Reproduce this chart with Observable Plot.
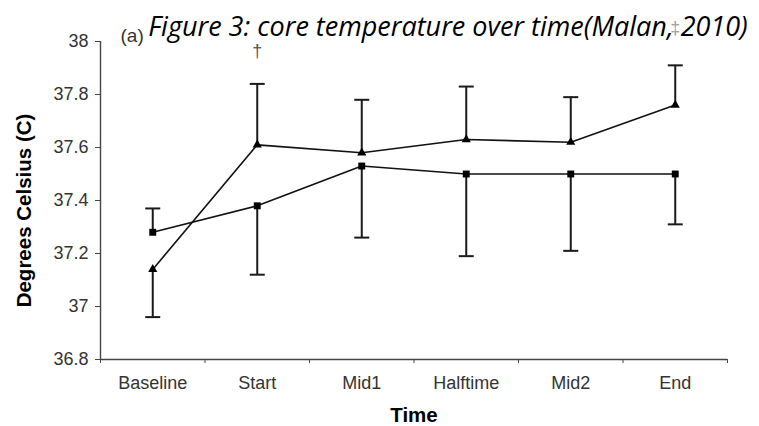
<!DOCTYPE html>
<html>
<head>
<meta charset="utf-8">
<script src="https://cdn.jsdelivr.net/npm/d3@7"></script>
<script src="https://cdn.jsdelivr.net/npm/@observablehq/plot@0.6"></script>
<style>
  body { margin: 0; background: #fff; }
  svg { overflow: visible; }
</style>
</head>
<body>
<div id="chart"></div>
<script>
// Core temperature (°C) at each time point, two conditions
const times = ["Baseline", "Start", "Mid1", "Halftime", "Mid2", "End"];

// triangle series: means and the far end of each one-sided error bar
const triMean = [37.14, 37.61, 37.58, 37.63, 37.62, 37.76];
const triBar  = [36.96, 37.84, 37.78, 37.83, 37.79, 37.91];

// square series: means and the far end of each one-sided error bar
const sqMean = [37.28, 37.38, 37.53, 37.50, 37.50, 37.50];
const sqBar  = [37.37, 37.12, 37.26, 37.19, 37.21, 37.31];

const yTicks = [36.8, 37, 37.2, 37.4, 37.6, 37.8, 38];
const yTickLabels = ["36.8", "37", "37.2", "37.4", "37.6", "37.8", "38"];

// significance markers
const marks = [
  {time: "Start", y: 37.965, label: "\u2020", color: "#555"},
  {time: "End", y: 38.05, label: "\u2021", color: "#a0a0a0"}
];

// each category sits in the middle of a unit-wide slot on a linear x scale
const slot = t => times.indexOf(t) + 0.5;
const tri = times.map((t, i) => ({x: slot(t), mean: triMean[i], bar: triBar[i]}));
const sq = times.map((t, i) => ({x: slot(t), mean: sqMean[i], bar: sqBar[i]}));

// horizontal cap drawn as a dot symbol
const capSymbol = {
  draw(context, size) {
    const w = Math.sqrt(size / Math.PI);
    context.moveTo(-w, 0);
    context.lineTo(w, 0);
  }
};

const xDomain = [0, times.length];
const yDomain = [yTicks[0], yTicks[yTicks.length - 1]];

const series = (data, symbol, r) => [
  Plot.ruleX(data, {x: "x", y1: "mean", y2: "bar", stroke: "#1a1a1a", strokeWidth: 2}),
  Plot.dot(data, {x: "x", y: "bar", symbol: capSymbol, r: 7.5, stroke: "#1a1a1a", strokeWidth: 2}),
  Plot.line(data, {x: "x", y: "mean", stroke: "#111", strokeWidth: 1.6}),
  Plot.dot(data, {x: "x", y: "mean", symbol, r, fill: "#000", stroke: "none"})
];

const chart = Plot.plot({
  width: 759,
  height: 426,
  marginLeft: 100,
  marginRight: 32,
  marginTop: 41,
  marginBottom: 67,
  style: {fontFamily: "'Liberation Sans', Arial, sans-serif", fontSize: "18px", color: "#333", background: "#fff"},
  x: {type: "linear", domain: xDomain},
  y: {domain: yDomain},
  marks: [
    // axis lines
    Plot.ruleX([xDomain[0]], {y1: yDomain[0], y2: yDomain[1], stroke: "#444", strokeWidth: 1.4}),
    Plot.ruleY([yDomain[0]], {stroke: "#444", strokeWidth: 1.4}),
    Plot.axisY({ticks: yTicks, tickFormat: (d, i) => yTickLabels[i], tickSize: 5, tickPadding: 7, fontSize: 18, label: null, stroke: "#444"}),
    // slot boundary ticks on x
    Plot.axisX({ticks: d3.range(times.length + 1), tickFormat: () => "", tickSize: 4, label: null, stroke: "#444"}),
    // category labels in the middle of each slot
    Plot.axisX({ticks: times.map(slot), tickFormat: d => times[Math.floor(d)], tickSize: 0, tickPadding: 17, fontSize: 18, label: null}),
    ...series(tri, "triangle", 3.4),
    ...series(sq, "square", 3.9),
    Plot.text(marks, {x: d => slot(d.time), y: "y", text: "label", fill: "color", fontSize: 18}),
    Plot.text(["(a)"], {frameAnchor: "top-left", dx: 20, dy: -13, textAnchor: "start", fontSize: 19}),
    // axis titles
    Plot.text(["Degrees Celsius (C)"], {frameAnchor: "left", textAnchor: "middle", dx: -76, dy: 10, rotate: -90, fontSize: 20.5, fontWeight: "bold", fill: "#000"}),
    Plot.text(["Time"], {frameAnchor: "bottom", lineAnchor: "middle", dy: 56, fontSize: 20.5, fontWeight: "bold", fill: "#000"}),
    // figure title
    Plot.text(["Figure 3: core temperature over time(Malan, 2010)"], {
      frameAnchor: "top", dx: 34, dy: -25, fontSize: 27, fontStyle: "italic",
      fontFamily: "'Open Sans', 'Noto Sans', sans-serif", fill: "#000"
    })
  ]
});

document.getElementById("chart").appendChild(chart);
</script>
</body>
</html>
